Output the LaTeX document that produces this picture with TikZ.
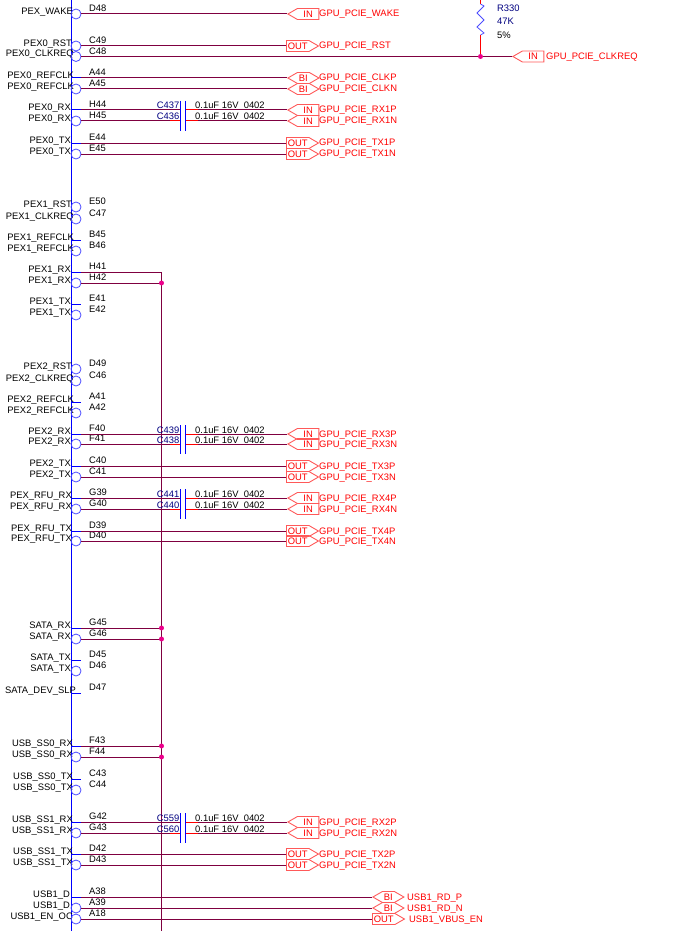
\documentclass[tikz,border=0pt]{standalone}
\usepackage{fontspec}
\setmainfont{Liberation Sans}
\usetikzlibrary{shapes.symbols, positioning, calc}
\definecolor{netcol}{RGB}{127,0,64}
\definecolor{symcol}{RGB}{0,0,255}
\definecolor{refcol}{RGB}{0,0,128}
\tikzset{
    netwire/.style={draw=netcol, line width=1pt},
    pinwire/.style={draw=symcol, line width=1pt},
    edgewire/.style={draw=symcol, line width=1.3pt},
    redstub/.style={draw=red, line width=1pt},
    negpin/.style={circle, draw=symcol!70, line width=0.8pt, inner sep=0pt, minimum size=10pt},
    joint/.style={circle, fill=magenta, inner sep=0pt, minimum size=5pt},
    txt/.style={font=\fontsize{9.4}{10}\selectfont, inner sep=0pt},
    pinname/.style={txt, anchor=base east},
    pinno/.style={txt, anchor=base west},
    flagtxt/.style={txt, text=red, anchor=base west},
    flag/.style={signal, draw=red!65, line width=0.9pt, text=red, font=\fontsize{9.4}{10}\selectfont,
        inner sep=0pt, minimum height=11pt, signal pointer angle=60, anchor=west},
    flagin/.style={flag, minimum width=31pt, signal to=west, signal from=nowhere},
    flagout/.style={flag, minimum width=32pt, signal to=east, signal from=nowhere},
    flagbi/.style={flag, minimum width=31pt, signal to=west and east},
}
\begin{document}
\begin{tikzpicture}[x=1pt, y=-1pt]
\useasboundingbox (0,0) rectangle (698,931);
% Symbol edge and the tied net
\coordinate (edgetop) at (71.5,0);
\coordinate (edgebot) at (71.5,931);
\coordinate (tietop) at (161.5,272);
\coordinate (tiebot) at (161.5,931);
\draw[edgewire] (edgetop) -- (edgebot);
\draw[netwire] (tietop) -- (tiebot);
% Pins: y / name / number / inverted / end of name
\foreach \y/\pname/\pno/\inv/\lx in {
    14/PEX\_WAKE/D48/1/73, 46/PEX0\_RST/C49/1/72, 56.5/PEX0\_CLKREQ/C48/1/74,
    78/PEX0\_REFCLK/A44/0/74, 89/PEX0\_REFCLK/A45/1/74,
    110/PEX0\_RX/H44/0/71, 121/PEX0\_RX/H45/1/71,
    143/PEX0\_TX/E44/0/71, 154/PEX0\_TX/E45/1/71,
    207/PEX1\_RST/E50/1/72, 219/PEX1\_CLKREQ/C47/1/74,
    240/PEX1\_REFCLK/B45/0/74, 251/PEX1\_REFCLK/B46/1/74,
    272/PEX1\_RX/H41/0/71, 283/PEX1\_RX/H42/1/71,
    304/PEX1\_TX/E41/0/71, 315/PEX1\_TX/E42/1/71,
    369/PEX2\_RST/D49/1/72, 381/PEX2\_CLKREQ/C46/1/74,
    402/PEX2\_REFCLK/A41/0/74, 413/PEX2\_REFCLK/A42/1/74,
    434/PEX2\_RX/F40/0/71, 444/PEX2\_RX/F41/1/71,
    466/PEX2\_TX/C40/0/71, 477/PEX2\_TX/C41/1/71,
    498/PEX\_RFU\_RX/G39/0/72, 509/PEX\_RFU\_RX/G40/1/72,
    531/PEX\_RFU\_TX/D39/0/72, 541/PEX\_RFU\_TX/D40/1/72,
    628/SATA\_RX/G45/0/71, 639/SATA\_RX/G46/1/71,
    660/SATA\_TX/D45/0/71, 671/SATA\_TX/D46/1/71,
    693/SATA\_DEV\_SLP/D47/0/76,
    746/USB\_SS0\_RX/F43/0/73, 757/USB\_SS0\_RX/F44/1/73,
    779/USB\_SS0\_TX/C43/0/73, 790/USB\_SS0\_TX/C44/1/73,
    822/USB\_SS1\_RX/G42/0/73, 833/USB\_SS1\_RX/G43/1/73,
    854/USB\_SS1\_TX/D42/0/73, 865/USB\_SS1\_TX/D43/1/73,
    897/USB1\_D/A38/0/70, 908/USB1\_D/A39/1/70, 919/USB1\_EN\_OC/A18/1/73
} {
    \coordinate (p\pno) at (81,\y);
    \coordinate (e\pno) at (71.5,\y);
    \node[pinname] (n\pno) at (\lx,\y+0.3) {\pname};
    \node[pinno] (k\pno) at (89,\y-2.4) {\pno};
    \ifnum\inv=1
        \node[negpin] (b\pno) at (76,\y) {};
    \else
        \draw[pinwire] (e\pno) -- (p\pno);
    \fi
}
% Nets straight to a flag
\foreach \pno/\fl/\fx/\ftext/\tx in {
    D48/in/287/GPU\_PCIE\_WAKE/319, C49/out/286/GPU\_PCIE\_RST/319,
    A44/bi/287/GPU\_PCIE\_CLKP/319, A45/bi/287/GPU\_PCIE\_CLKN/319,
    E44/out/286/GPU\_PCIE\_TX1P/319, E45/out/286/GPU\_PCIE\_TX1N/319,
    C40/out/286/GPU\_PCIE\_TX3P/319, C41/out/286/GPU\_PCIE\_TX3N/319,
    D39/out/286/GPU\_PCIE\_TX4P/319, D40/out/286/GPU\_PCIE\_TX4N/319,
    D42/out/286/GPU\_PCIE\_TX2P/319, D43/out/286/GPU\_PCIE\_TX2N/319,
    A38/bi/372/USB1\_RD\_P/407, A39/bi/372/USB1\_RD\_N/407, A18/out/372/USB1\_VBUS\_EN/409,
    C48/in/512/GPU\_PCIE\_CLKREQ/546
} {
    \node[flag\fl] (f\pno) at (p\pno -| \fx,0) {\MakeUppercase{\fl}};
    \node[flagtxt] (t\pno) at ($(p\pno -| \tx,0)+(0,3)$) {\ftext};
    \draw[netwire] (p\pno) -- (f\pno.west);
}
% Nets through a series capacitor
\foreach \pno/\cname/\ftext/\low in {
    H44/C437/GPU\_PCIE\_RX1P/0, H45/C436/GPU\_PCIE\_RX1N/1,
    F40/C439/GPU\_PCIE\_RX3P/0, F41/C438/GPU\_PCIE\_RX3N/1,
    G39/C441/GPU\_PCIE\_RX4P/0, G40/C440/GPU\_PCIE\_RX4N/1,
    G42/C559/GPU\_PCIE\_RX2P/0, G43/C560/GPU\_PCIE\_RX2N/1
} {
    \coordinate (cl\pno) at (p\pno -| 180.5,0);
    \coordinate (cr\pno) at (p\pno -| 185.5,0);
    \coordinate (cs\pno) at (p\pno -| 198,0);
    \coordinate (cq\pno) at (p\pno -| 170,0);
    \node[flagin] (f\pno) at (p\pno -| 287,0) {IN};
    \node[flagtxt] (t\pno) at ($(p\pno -| 319,0)+(0,3)$) {\ftext};
    \node[txt, text=refcol, anchor=base east] (r\pno) at ($(cl\pno)+(-1,-1)$) {\cname};
    \node[txt, anchor=base west] (v\pno) at ($(p\pno -| 195,0)+(0,-1)$) {0.1uF 16V\ \ 0402};
    \draw[netwire] (p\pno) -- (cl\pno);
    \draw[netwire] (cs\pno) -- (f\pno.west);
    \draw[redstub] (cr\pno) -- (cs\pno);
    \ifnum\low=1
        \draw[redstub] (cq\pno) -- (cl\pno);
    \fi
}
% Capacitor plates
\foreach \top/\bot/\cap in {H44/H45/a, F40/F41/b, G39/G40/c, G42/G43/d} {
    \coordinate (pa\cap) at ($(cl\top)+(0,-9)$);
    \coordinate (pb\cap) at ($(cl\bot)+(0,10)$);
    \coordinate (qa\cap) at ($(cr\top)+(0,-9)$);
    \coordinate (qb\cap) at ($(cr\bot)+(0,10)$);
    \draw[pinwire] (pa\cap) -- (pb\cap);
    \draw[pinwire] (qa\cap) -- (qb\cap);
}
% Pins tied together
\foreach \pno in {H41, H42, G45, G46, F43, F44} {
    \coordinate (m\pno) at (p\pno -| tietop);
    \draw[netwire] (p\pno) -- (m\pno);
}
\foreach \pno in {H42, G45, G46, F43, F44} {
    \node[joint] (j\pno) at (m\pno) {};
}
% Pull-up on the clock request
\coordinate (rtop) at (480.5,0);
\coordinate (rhi) at (480.5,4);
\coordinate (rlo) at (480.5,35);
\node[joint] (jres) at (480.5,56.5) {};
\draw[redstub] (rtop) -- (rhi);
\draw[draw=symcol!70, line width=0.8pt] (rhi) -- (484,6) -- (477,13) -- (484,20) -- (477,27) -- (484,33) -- (rlo);
\draw[redstub] (rlo) -- (jres);
\node[txt, text=refcol, anchor=base west] (rname) at (497,12) {R330};
\node[txt, text=refcol, anchor=base west] (rval) at (497,25) {47K};
\node[txt, anchor=base west] (rtol) at (497,39) {5\%};
\end{tikzpicture}
\end{document}
